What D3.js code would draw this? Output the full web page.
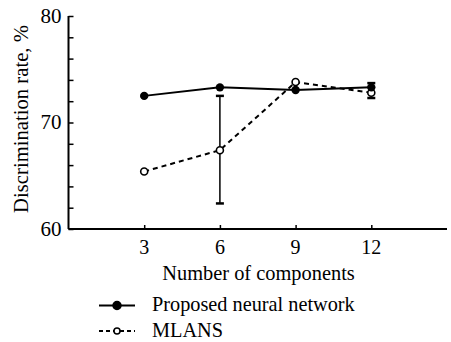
<!DOCTYPE html>
<html>
<head>
<meta charset="utf-8">
<script src="https://cdn.jsdelivr.net/npm/d3@7"></script>
<style>
  body { margin: 0; background: #fff; }
</style>
</head>
<body>
<svg id="chart" width="451" height="342" font-family="Liberation Serif"></svg>
<script>
// data
const components = [3, 6, 9, 12]
const proposed = [72.5, 73.3, 73.05, 73.3]
const mlans = [65.4, 67.4, 73.8, 72.8]
// error bars of MLANS: [component, low, high]
const mlansErr = [[6, 62.4, 72.5], [12, 72.3, 73.7]]
const xTicks = [3, 6, 9, 12]
const yTicks = [60, 62, 64, 66, 68, 70, 72, 74, 76, 78, 80]
const yLabels = [60, 70, 80]
const legendNames = ['Proposed neural network', 'MLANS']

const svg = d3.select('#chart')
const font = 'Liberation Serif'

const x = d3.scaleLinear().domain([0, 15]).range([68.5, 447])
const y = d3.scaleLinear().domain([60, 80]).range([229, 16])

// axes
const yAxis = d3.axisRight(y)
    .tickValues(yTicks)
    .tickSize(5)
    .tickFormat('')
const gy = svg.append('g')
    .attr('transform', `translate(${x(0)},0)`)
    .call(yAxis)
gy.select('.domain').attr('stroke-width', 2).attr('d', `M0,${y(80)}V${y(60)}`)
gy.selectAll('.tick line').attr('stroke-width', 1.5)

svg.append('g').selectAll('text')
    .data(yLabels)
    .join('text')
    .attr('x', x(0) - 7)
    .attr('y', d => y(d))
    .attr('dy', '0.33em')
    .attr('text-anchor', 'end')
    .attr('font-family', font)
    .attr('font-size', 21)
    .text(d => d)

const xAxis = d3.axisTop(x)
    .tickValues(xTicks)
    .tickSize(4)
    .tickFormat('')
const gx = svg.append('g')
    .attr('transform', `translate(0,${y(60)})`)
    .call(xAxis)
gx.select('.domain').attr('stroke-width', 2).attr('d', `M${x(0)},0H${x(15)}`)
gx.selectAll('.tick line').attr('stroke-width', 1.5)

svg.append('g').selectAll('text')
    .data(xTicks)
    .join('text')
    .attr('x', d => x(d))
    .attr('y', 254)
    .attr('text-anchor', 'middle')
    .attr('font-family', font)
    .attr('font-size', 20)
    .text(d => d)

svg.append('text')
    .attr('x', 258.5)
    .attr('y', 279.5)
    .attr('text-anchor', 'middle')
    .attr('font-family', font)
    .attr('font-size', 20.4)
    .text('Number of components')

svg.append('text')
    .attr('transform', `translate(28,${(25 + 213) / 2}) rotate(-90)`)
    .attr('text-anchor', 'middle')
    .attr('font-family', font)
    .attr('font-size', 20.7)
    .text('Discrimination rate, %')

// error bars
const err = svg.append('g')
err.selectAll('line.bar')
    .data(mlansErr)
    .join('line')
    .attr('x1', d => x(d[0])).attr('x2', d => x(d[0]))
    .attr('y1', d => y(d[1])).attr('y2', d => y(d[2]))
    .attr('stroke', '#000').attr('stroke-width', 1.5)
err.selectAll('line.cap')
    .data(mlansErr.flatMap(d => [[d[0], d[1]], [d[0], d[2]]]))
    .join('line')
    .attr('x1', d => x(d[0]) - 4).attr('x2', d => x(d[0]) + 4)
    .attr('y1', d => y(d[1])).attr('y2', d => y(d[1]))
    .attr('stroke', '#000').attr('stroke-width', 2.5)

const line = d3.line().x(d => x(d[0])).y(d => y(d[1]))

// MLANS dashed line
svg.append('path')
    .attr('d', line(d3.zip(components, mlans)))
    .attr('fill', 'none').attr('stroke', '#000')
    .attr('stroke-width', 2).attr('stroke-dasharray', '5,4')

// Proposed solid line
svg.append('path')
    .attr('d', line(d3.zip(components, proposed)))
    .attr('fill', 'none').attr('stroke', '#000')
    .attr('stroke-width', 2)

svg.append('g').selectAll('circle')
    .data(d3.zip(components, mlans))
    .join('circle')
    .attr('cx', d => x(d[0])).attr('cy', d => y(d[1]))
    .attr('r', 3.5)
    .attr('fill', '#fff').attr('stroke', '#000').attr('stroke-width', 1.6)

svg.append('g').selectAll('circle')
    .data(d3.zip(components, proposed))
    .join('circle')
    .attr('cx', d => x(d[0])).attr('cy', d => y(d[1]))
    .attr('r', 4.2)
    .attr('fill', '#000')

// legend
const legend = svg.append('g')
    .selectAll('g')
    .data(legendNames)
    .join('g')
    .attr('transform', (d, i) => `translate(99,${305.5 + i * 25.5})`)
legend.append('line')
    .attr('x1', 0).attr('x2', 36)
    .attr('stroke', '#000').attr('stroke-width', 2)
    .attr('stroke-dasharray', (d, i) => i ? '4,3' : null)
legend.append('circle')
    .attr('cx', 18).attr('r', (d, i) => i ? 3 : 4)
    .attr('fill', (d, i) => i ? '#fff' : '#000')
    .attr('stroke', '#000').attr('stroke-width', 1.5)
legend.append('text')
    .attr('x', 53).attr('y', 5.5)
    .attr('font-family', font)
    .attr('font-size', 20.3)
    .text(d => d)
</script>
</body>
</html>
